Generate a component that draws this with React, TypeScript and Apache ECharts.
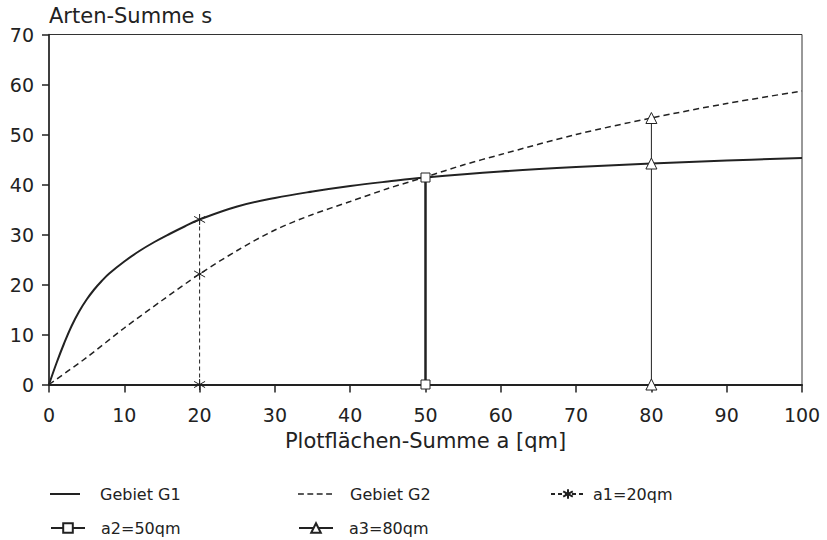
import React, { useEffect, useRef } from "react";
import * as echarts from "echarts";

const g1X = [0, 1, 2, 3, 4, 5, 6, 7, 8, 10, 12, 14, 16, 18, 20, 25, 30, 35, 40, 45, 50, 60, 70, 80, 90, 100];
const g1Y = [0, 4.3, 8.2, 11.7, 14.6, 17.0, 19.0, 20.7, 22.2, 24.6, 26.7, 28.5, 30.1, 31.6, 33.0, 35.6, 37.3, 38.6, 39.7, 40.6, 41.4, 42.6, 43.5, 44.2, 44.8, 45.3];
const g2X = [0, 5, 10, 15, 20, 25, 30, 35, 40, 45, 50, 55, 60, 70, 80, 90, 100];
const g2Y = [0, 5.4, 11.3, 16.8, 22.1, 26.8, 30.9, 34.0, 36.6, 39.2, 41.5, 43.9, 46.0, 50.0, 53.3, 56.2, 58.7];
const a1X = [20, 20, 20];
const a1Y = [0, 22.1, 33.0];
const a2X = [50, 50];
const a2Y = [0, 41.4];
const a3X = [80, 80, 80];
const a3Y = [0, 44.2, 53.3];
const xTicks = [0, 10, 20, 30, 40, 50, 60, 70, 80, 90, 100];
const yTicks = [0, 10, 20, 30, 40, 50, 60, 70];
const names = ["Gebiet G1", "Gebiet G2", "a1=20qm", "a2=50qm", "a3=80qm"];

const zip = (xs: number[], ys: number[]) => xs.map((x, i) => [x, ys[i]]);
const FONT = "DejaVu Sans";
const INK = "#222";
const STAR = "path://M5 0 L5 10 M0.8 2.2 L9.2 7.8 M0.8 7.8 L9.2 2.2";
const SOLID_ICON = "path://M0 0 H30 V2 H0 Z";
const DASH_ICON = "path://M0 0 H5 V1.4 H0 Z M8 0 H13 V1.4 H8 Z M16 0 H21 V1.4 H16 Z M24 0 H29 V1.4 H24 Z";

export default function App() {
  const ref = useRef<HTMLDivElement>(null);
  useEffect(() => {
    if (!ref.current) return;
    const chart = echarts.init(ref.current, undefined, { renderer: "svg" });
    const mkLegend = (name: string, left: number, top: number, gap: number, icon?: string) => ({
      data: [icon ? { name, icon } : name],
      left,
      top,
      padding: 0,
      itemWidth: 34,
      itemHeight: icon ? 2 : 12,
      textStyle: { fontFamily: FONT, fontSize: 16, color: INK, padding: [0, 0, 0, gap] },
      selectedMode: false,
    });
    chart.setOption({
      animation: false,
      backgroundColor: "#fff",
      title: {
        text: "Arten-Summe s",
        left: 49,
        top: 5,
        padding: 0,
        textStyle: { fontFamily: FONT, fontSize: 21, fontWeight: "normal", color: INK },
      },
      grid: {
        left: 49,
        right: 25,
        top: 34.5,
        bottom: 155.5,
        show: true,
        borderColor: "#333",
        borderWidth: 1,
      },
      legend: [
        mkLegend(names[0], 50, 486, 13, SOLID_ICON),
        mkLegend(names[1], 298, 486, 13, DASH_ICON),
        mkLegend(names[2], 550, 486, 3),
        mkLegend(names[3], 50, 520, 11),
        mkLegend(names[4], 298, 520, 11),
      ],
      xAxis: {
        type: "value",
        min: xTicks[0],
        max: xTicks[xTicks.length - 1],
        interval: 10,
        name: "Plotflächen-Summe a [qm]",
        nameLocation: "middle",
        nameGap: 46,
        nameTextStyle: { fontFamily: FONT, fontSize: 21, color: INK },
        axisLine: { lineStyle: { color: INK, width: 2 } },
        axisTick: { show: true, length: 8, lineStyle: { color: INK, width: 1.5 } },
        axisLabel: { fontFamily: FONT, fontSize: 19, color: INK, margin: 21 },
        splitLine: { show: false },
      },
      yAxis: {
        type: "value",
        min: yTicks[0],
        max: yTicks[yTicks.length - 1],
        interval: 10,
        axisLine: { show: true, lineStyle: { color: INK, width: 1.5 } },
        axisTick: { show: true, length: 7, lineStyle: { color: INK, width: 1.5 } },
        axisLabel: { fontFamily: FONT, fontSize: 19, color: INK, margin: 15 },
        splitLine: { show: false },
      },
      series: [
        {
          name: names[0],
          type: "line",
          data: zip(g1X, g1Y),
          smooth: 0.4,
          symbol: "none",
          lineStyle: { color: INK, width: 2 },
          itemStyle: { color: INK },
        },
        {
          name: names[1],
          type: "line",
          data: zip(g2X, g2Y),
          smooth: 0.3,
          symbol: "none",
          lineStyle: { color: INK, width: 1.5, type: [6, 4] },
          itemStyle: { color: INK },
        },
        {
          name: names[2],
          type: "line",
          data: zip(a1X, a1Y),
          symbol: STAR,
          symbolSize: 11,
          lineStyle: { color: INK, width: 1, type: [4, 3] },
          itemStyle: { color: "none", borderColor: INK, borderWidth: 1 },
        },
        {
          name: names[3],
          type: "line",
          data: zip(a2X, a2Y),
          symbol: "rect",
          symbolSize: 9,
          lineStyle: { color: INK, width: 2.5 },
          itemStyle: { color: "#fff", borderColor: INK, borderWidth: 1 },
        },
        {
          name: names[4],
          type: "line",
          data: zip(a3X, a3Y),
          symbol: "triangle",
          symbolSize: 11,
          lineStyle: { color: INK, width: 1 },
          itemStyle: { color: "#fff", borderColor: INK, borderWidth: 1 },
        },
      ],
    });
    return () => chart.dispose();
  }, []);
  return <div ref={ref} style={{ width: 827, height: 540, position: "absolute", left: 0, top: 0 }} />;
}
